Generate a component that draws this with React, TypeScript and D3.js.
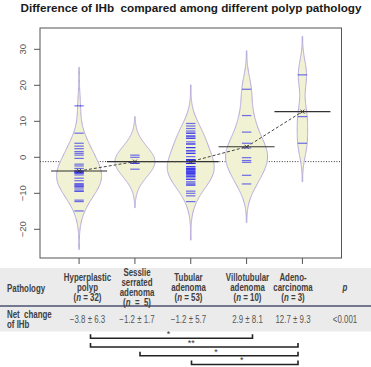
import React from "react";
import * as d3 from "d3";

const title = "Difference of IHb  compared among different polyp pathology";

const groups = ["Hyperplastic polyp", "Sesslie serrated adenoma", "Tubular adenoma", "Villotubular adenoma", "Adenocarcinoma"];

const hyperplastic = [14.3, 6.7, 3.9, 3.1, 2.4, 1.6, 1.1, 0.6, -0.3, -1.9, -2.4, -3.1, -3.8, -4.1, -4.4, -4.9, -5.8, -6.5, -7.7, -8.2, -8.8, -9.4, -11.9, -12.3, -14.9, -4.1, -4.4, -3.8, -8.2, -7.7, -9.4, -7.3];
const sesslie = [0.6, 0.0, -1.6, -1.7, -3.3];
const tubular = [9.4, 8.7, 8.0, 7.3, 6.7, 5.9, 5.3, 4.3, 3.7, 2.7, 1.8, 1.1, 0.2, -0.7, -1.7, -2.6, -3.1, -3.5, -4.0, -4.4, -4.9, -5.4, -6.1, -6.8, -7.2, -7.7, -9.4, -10.0, -10.7, -12.3,
  6.7, 5.9, 5.3, 3.7, 2.7, 1.8, 1.1, -1.0, -0.7, -1.7, -2.6, -3.1, -3.5, -4.0, -4.4, -4.9, -5.4, -6.1, -0.7, -1.7, -3.5, -4.4, -7.7];
const villotubular = [18.9, 11.6, 7.0, 3.9, 2.6, -0.1, -0.9, -1.4, -5.0, -7.4];
const adenocarcinoma = [22.9, 11.3, 3.9];
const seriesValues = [hyperplastic, sesslie, tubular, villotubular, adenocarcinoma];

const yTicks = [-20, -10, 0, 10, 20, 30];

const headerRow = [
  ["Hyperplastic", "polyp", "(n = 32)"],
  ["Sesslie", "serrated", "adenoma", "(n  =  5)"],
  ["Tubular", "adenoma", "(n = 53)"],
  ["Villotubular", "adenoma", "(n = 10)"],
  ["Adeno-", "carcinoma", "(n = 3)"],
];
const netChange = ["\u22123.8 \u00b1 6.3", "\u22121.2 \u00b1 1.7", "\u22121.2 \u00b1 5.7", "2.9 \u00b1 8.1", "12.7 \u00b1 9.3"];
const pValue = "<0.001";
const comparisons: [number, number, string][] = [
  [0, 3, "*"],
  [0, 4, "**"],
  [1, 4, "*"],
  [2, 4, "*"],
];

// layout
const W = 371, H = 367;
const plot = { left: 40, right: 341.5, top: 28, bottom: 258 };
const colX = [87.5, 137, 188.5, 247.5, 293, 345];
const bandwidth = 3.9;
const cut = 10.7;
const beanHalf = [22.5, 20, 23.5, 21, 5.2];
const font = "'Liberation Sans', Arial, sans-serif";
const narrow = 0.79;

function nLabel(s: string) {
  const m = s.match(/^\((\s*)n(.*)\)$/);
  if (!m) return s;
  return (
    <>
      ({m[1]}<tspan fontStyle="italic">n</tspan>{m[2]})
    </>
  );
}

function CText(props: { x: number; y: number; anchor?: string; bold?: boolean; italic?: boolean; fill?: string; size?: number; children: any }) {
  const { x, y, anchor = "start", bold, italic, fill = "#404040", size = 10, children } = props;
  return (
    <g transform={`translate(${x},${y}) scale(${narrow},1)`}>
      <text x={0} y={0} textAnchor={anchor} fontSize={size} fontWeight={bold ? "bold" : "normal"} fontStyle={italic ? "italic" : "normal"} fill={fill} style={{ whiteSpace: "pre" }}>
        {children}
      </text>
    </g>
  );
}

export default function App() {
  const x = d3.scaleLinear().domain([0.3, 5.7]).range([plot.left, plot.right]);
  const y = d3.scaleLinear().domain([-27.97, 35.92]).range([plot.bottom, plot.top]);

  const means = seriesValues.map((v) => d3.mean(v) as number);
  const overall = d3.mean(seriesValues.flat()) as number;

  const beans = seriesValues.map((vals, gi) => {
    const lo = (d3.min(vals) as number) - cut;
    const hi = (d3.max(vals) as number) + cut;
    const grid = d3.range(0, 161).map((i) => lo + ((hi - lo) * i) / 160);
    const dens = grid.map((g) => d3.sum(vals, (v) => Math.exp(-0.5 * ((g - v) / bandwidth) ** 2)));
    const mx = d3.max(dens) as number;
    const pts = grid.map((g, i) => ({ v: g, w: (dens[i] / mx) * beanHalf[gi] }));
    const cx = x(gi + 1);
    const area = d3
      .area<{ v: number; w: number }>()
      .y((d) => y(d.v))
      .x0((d) => cx - Math.max(d.w, 0.3))
      .x1((d) => cx + Math.max(d.w, 0.3))
      .curve(d3.curveBasis);
    return area(pts) as string;
  });

  const meanLine = d3
    .line<number>()
    .x((_, i) => x(i + 1))
    .y((d) => y(d));

  return (
    <svg width={W} height={H} style={{ position: "absolute", left: 0, top: 0, background: "#fff" }} fontFamily={font}>
      <text x={20.5} y={11.5} fontSize={10.2} fontWeight="bold" fill="#1a1a1a" textLength={341} lengthAdjust="spacingAndGlyphs" style={{ whiteSpace: "pre" }}>
        {title}
      </text>

      <line x1={plot.left} x2={plot.right} y1={y(overall)} y2={y(overall)} stroke="#333" strokeWidth={1} strokeDasharray="1,1.6" />

      {beans.map((p, i) => (
        <path key={i} d={p} fill="#f1f1d3" stroke="#b6a8dc" strokeWidth={1} />
      ))}

      {seriesValues.map((vals, gi) =>
        vals.map((v, j) => (
          <line key={gi + "-" + j} x1={x(gi + 1) - 4.7} x2={x(gi + 1) + 4.7} y1={y(v)} y2={y(v)} stroke="rgba(20,20,240,0.6)" strokeWidth={1.2} />
        ))
      )}

      {means.map((m, i) => (
        <line key={i} x1={x(i + 1) - 28} x2={x(i + 1) + 28} y1={y(m)} y2={y(m)} stroke="#333" strokeWidth={1.1} />
      ))}

      <path d={meanLine(means) as string} fill="none" stroke="#444" strokeWidth={1} strokeDasharray="3,2" />
      {means.map((m, i) => (
        <g key={i} stroke="#333" strokeWidth={0.9}>
          <line x1={x(i + 1) - 2} x2={x(i + 1) + 2} y1={y(m) - 2} y2={y(m) + 2} />
          <line x1={x(i + 1) - 2} x2={x(i + 1) + 2} y1={y(m) + 2} y2={y(m) - 2} />
        </g>
      ))}

      <rect x={plot.left} y={plot.top} width={plot.right - plot.left} height={plot.bottom - plot.top} fill="none" stroke="#555" strokeWidth={1} />
      {yTicks.map((t) => (
        <g key={t}>
          <line x1={plot.left - 6} x2={plot.left} y1={y(t)} y2={y(t)} stroke="#555" />
          <text transform={`translate(${26},${y(t)}) rotate(-90)`} textAnchor="middle" fontSize={9.5} fill="#555">
            {t < 0 ? "\u2212" + Math.abs(t) : t}
          </text>
        </g>
      ))}
      {groups.map((g, i) => (
        <line key={g} x1={x(i + 1)} x2={x(i + 1)} y1={plot.bottom} y2={plot.bottom + 6} stroke="#555" />
      ))}

      {/* table */}
      <rect x={0} y={268} width={W} height={63.5} fill="#ebebeb" />
      <line x1={0} x2={W} y1={306} y2={306} stroke="#4d5270" strokeWidth={1.5} />
      <CText x={7} y={291.5} bold>Pathology</CText>
      {headerRow.map((lines, ci) => {
        const y0 = 287.5 - ((lines.length - 1) * 10) / 2;
        return lines.map((l, li) => (
          <CText key={ci + "-" + li} x={colX[ci]} y={y0 + li * 10 + 3.5} anchor="middle" bold>
            {nLabel(l)}
          </CText>
        ));
      })}
      <CText x={colX[5]} y={291} anchor="middle" bold italic>p</CText>

      <CText x={7} y={317.5} bold>Net  change</CText>
      <CText x={7} y={327.5} bold>of IHb</CText>
      {netChange.map((s, i) => (
        <CText key={i} x={colX[i]} y={322.5} anchor="middle" fill="#555">{s}</CText>
      ))}
      <CText x={colX[5]} y={322.5} anchor="middle" fill="#555">{pValue}</CText>

      {comparisons.map(([a, b, s], k) => {
        const yy = 338.3 + k * 8.75;
        const x1 = colX[a] + 3, x2 = colX[b] + 5;
        return (
          <g key={k}>
            <path d={`M${x1},${yy - 4}V${yy}H${x2}V${yy - 4}`} fill="none" stroke="#222" strokeWidth={1.6} />
            <text x={(x1 + x2) / 2 - 3} y={yy - 1.2} textAnchor="middle" fontSize={9} fill="#333">{s}</text>
          </g>
        );
      })}
    </svg>
  );
}
